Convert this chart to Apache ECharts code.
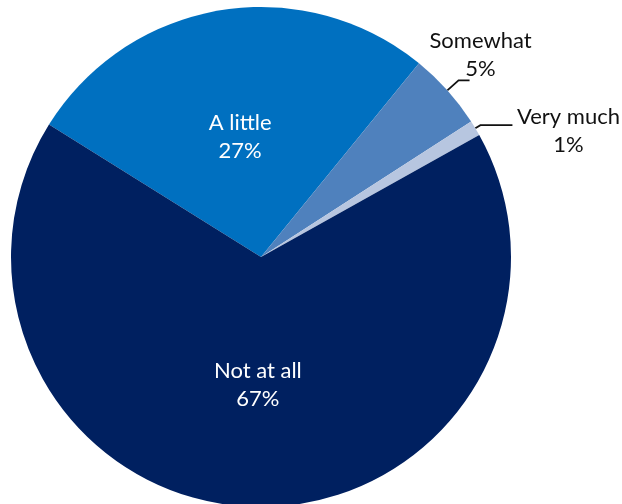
<!DOCTYPE html>
<html>
<head>
<meta charset="utf-8">
<script src="https://cdn.jsdelivr.net/npm/echarts@6/dist/echarts.min.js"></script>
<style>
  html, body { margin: 0; padding: 0; background: #ffffff; }
  #chart { width: 622px; height: 504px; }
</style>
</head>
<body>
<div id="chart"></div>
<script>
// Survey answers, in drawing order (clockwise from the upper-left edge)
const categories = ['A little', 'Somewhat', 'Very much', 'Not at all'];
const values = [27, 5, 1, 67];
const sliceColors = ['#0070C0', '#4F81BD', '#B7C6E0', '#002060'];

const FONT = 'Lato';
const FONT_SIZE = 22;

// Outside labels: text block settings per slice (only the two small slices)
const outsideLabel = {
  'Somewhat': {
    label: {
      position: 'outside', width: 106, padding: [0, 0, 50, 18],
      formatter: '{t|{b}}\n{t|{c}%}'
    },
    labelLine: { length: 15, length2: 11 },
    align: 'center'
  },
  'Very much': {
    label: {
      position: 'outside', width: 108, padding: [12, 0, 0, 0],
      formatter: '{t|{b}}\n{t|{c}%}'
    },
    labelLine: { length: 6, length2: 32 },
    align: 'left'
  }
};

// Inside labels: the upper slice's text sits a little lower (spacer line on top)
const insideFormat = {
  'A little': '{gap| }\n{w|{b}}\n{w|{c}%}',
  'Not at all': '{w|{b}}\n{w|{c}%}'
};

const seriesData = categories.map(function (name, i) {
  const item = {
    name: name,
    value: values[i],
    itemStyle: { color: sliceColors[i] }
  };
  const o = outsideLabel[name];
  if (o) {
    item.label = Object.assign({
      color: '#111111',
      fontFamily: FONT,
      fontSize: FONT_SIZE,
      lineHeight: 28,
      distanceToLabelLine: 2,
      rich: {
        t: { align: 'center', color: '#111111', fontFamily: FONT, fontSize: FONT_SIZE, lineHeight: 28 }
      }
    }, o.label);
    item.labelLine = Object.assign({
      show: true,
      smooth: false,
      lineStyle: { color: '#111111', width: 1.8 }
    }, o.labelLine);
  } else {
    item.label = {
      position: 'inside',
      formatter: insideFormat[name],
      color: '#ffffff',
      fontFamily: FONT,
      fontSize: FONT_SIZE,
      lineHeight: 28,
      rich: {
        gap: { fontSize: 8, lineHeight: 12, height: 12 },
        w: { align: 'center', color: '#ffffff', fontFamily: FONT, fontSize: FONT_SIZE, lineHeight: 28 }
      }
    };
    item.labelLine = { show: false };
  }
  return item;
});

const chart = echarts.init(document.getElementById('chart'), null, { renderer: 'canvas' });
chart.setOption({
  backgroundColor: '#ffffff',
  animation: false,
  series: [{
    type: 'pie',
    center: [261, 257],
    radius: 250,
    startAngle: 148,
    clockwise: true,
    avoidLabelOverlap: false,
    itemStyle: { borderWidth: 0 },
    emphasis: { disabled: true },
    labelLayout: function (params) {
      const o = outsideLabel[categories[params.dataIndex]];
      return o ? { align: o.align, verticalAlign: 'middle' } : {};
    },
    data: seriesData
  }]
});
</script>
</body>
</html>
